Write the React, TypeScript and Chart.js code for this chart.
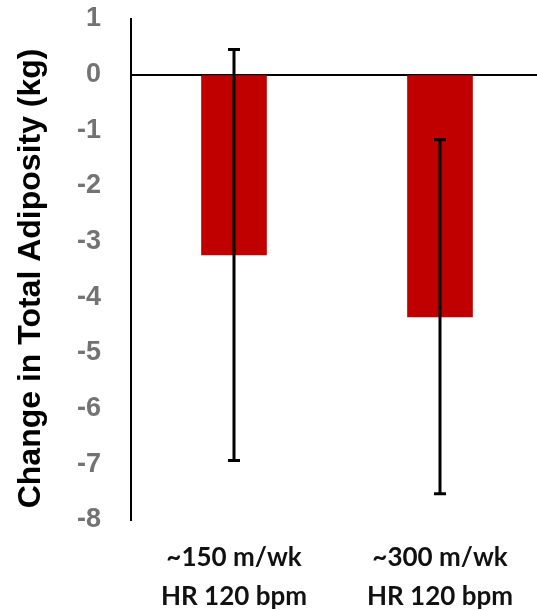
import React, { useEffect, useRef } from "react";
import { Chart, registerables } from "chart.js";

Chart.register(...registerables);

const categories: string[][] = [
  ["~150 m/wk", "HR 120 bpm"],
  ["~300 m/wk", "HR 120 bpm"],
];
const changeValues: number[] = [-3.24, -4.35];
const errorValues: number[] = [3.69, 3.18];
const yTicks: number[] = [1, 0, -1, -2, -3, -4, -5, -6, -7, -8];

const errorBarPlugin = {
  id: "errorBars",
  afterDatasetsDraw(chart: any) {
    const ctx = chart.ctx;
    const meta = chart.getDatasetMeta(0);
    const yScale = chart.scales.y;
    ctx.save();
    ctx.strokeStyle = "#000000";
    ctx.lineWidth = 3;
    meta.data.forEach((bar: any, i: number) => {
      const v = changeValues[i];
      const e = errorValues[i];
      const x = bar.x;
      const yTop = yScale.getPixelForValue(v + e);
      const yBot = yScale.getPixelForValue(v - e);
      const cap = 6;
      ctx.beginPath();
      ctx.moveTo(x, yTop);
      ctx.lineTo(x, yBot);
      ctx.moveTo(x - cap, yTop);
      ctx.lineTo(x + cap, yTop);
      ctx.moveTo(x - cap, yBot);
      ctx.lineTo(x + cap, yBot);
      ctx.stroke();
    });
    ctx.restore();
  },
};

export default function App() {
  const ref = useRef<HTMLCanvasElement | null>(null);
  useEffect(() => {
    if (!ref.current) return;
    const chart = new Chart(ref.current, {
      type: "bar",
      data: {
        labels: categories,
        datasets: [
          {
            data: changeValues,
            backgroundColor: "#C00000",
            borderWidth: 0,
            barThickness: 65,
          },
        ],
      },
      options: {
        responsive: false,
        animation: false,
        layout: { padding: { top: 19, right: 0, bottom: 0, left: 0 } },
        plugins: {
          legend: { display: false },
          tooltip: { enabled: false },
        },
        scales: {
          x: {
            grid: { display: false, drawTicks: false },
            border: { display: false },
            ticks: {
              color: "#111111",
              padding: 18,
              maxRotation: 0,
              font: { family: "Lato", weight: "bold", size: 26, lineHeight: 1.5 },
            },
            afterFit(scale: any) {
              scale.height = 90;
            },
          },
          y: {
            min: -8,
            max: 1,
            z: 1,
            afterBuildTicks(scale: any) {
              scale.ticks = yTicks.map((v) => ({ value: v }));
            },
            afterFit(scale: any) {
              scale.width = 131;
              scale.paddingTop = 0;
              scale.paddingBottom = 0;
            },
            grid: {
              drawTicks: false,
              lineWidth: 2,
              color: (c: any) => (c.tick && c.tick.value === 0 ? "#000000" : "rgba(0,0,0,0)"),
            },
            border: { display: true, color: "#000000", width: 2 },
            ticks: {
              color: "#737373",
              padding: 30,
              font: { family: "Liberation Sans", weight: "bold", size: 27 },
            },
            title: {
              display: true,
              text: "Change in Total Adiposity (kg)  ",
              color: "#000000",
              padding: { top: 12, bottom: 0 },
              font: { family: "Liberation Sans", weight: "bold", size: 32 },
            },
          },
        },
      },
      plugins: [errorBarPlugin],
    });
    return () => chart.destroy();
  }, []);
  return (
    <div
      style={{
        position: "absolute",
        left: 0,
        top: 0,
        width: 537,
        height: 610,
        overflow: "hidden",
        background: "#ffffff",
      }}
    >
      <canvas ref={ref} width={543} height={610} style={{ display: "block" }} />
    </div>
  );
}
